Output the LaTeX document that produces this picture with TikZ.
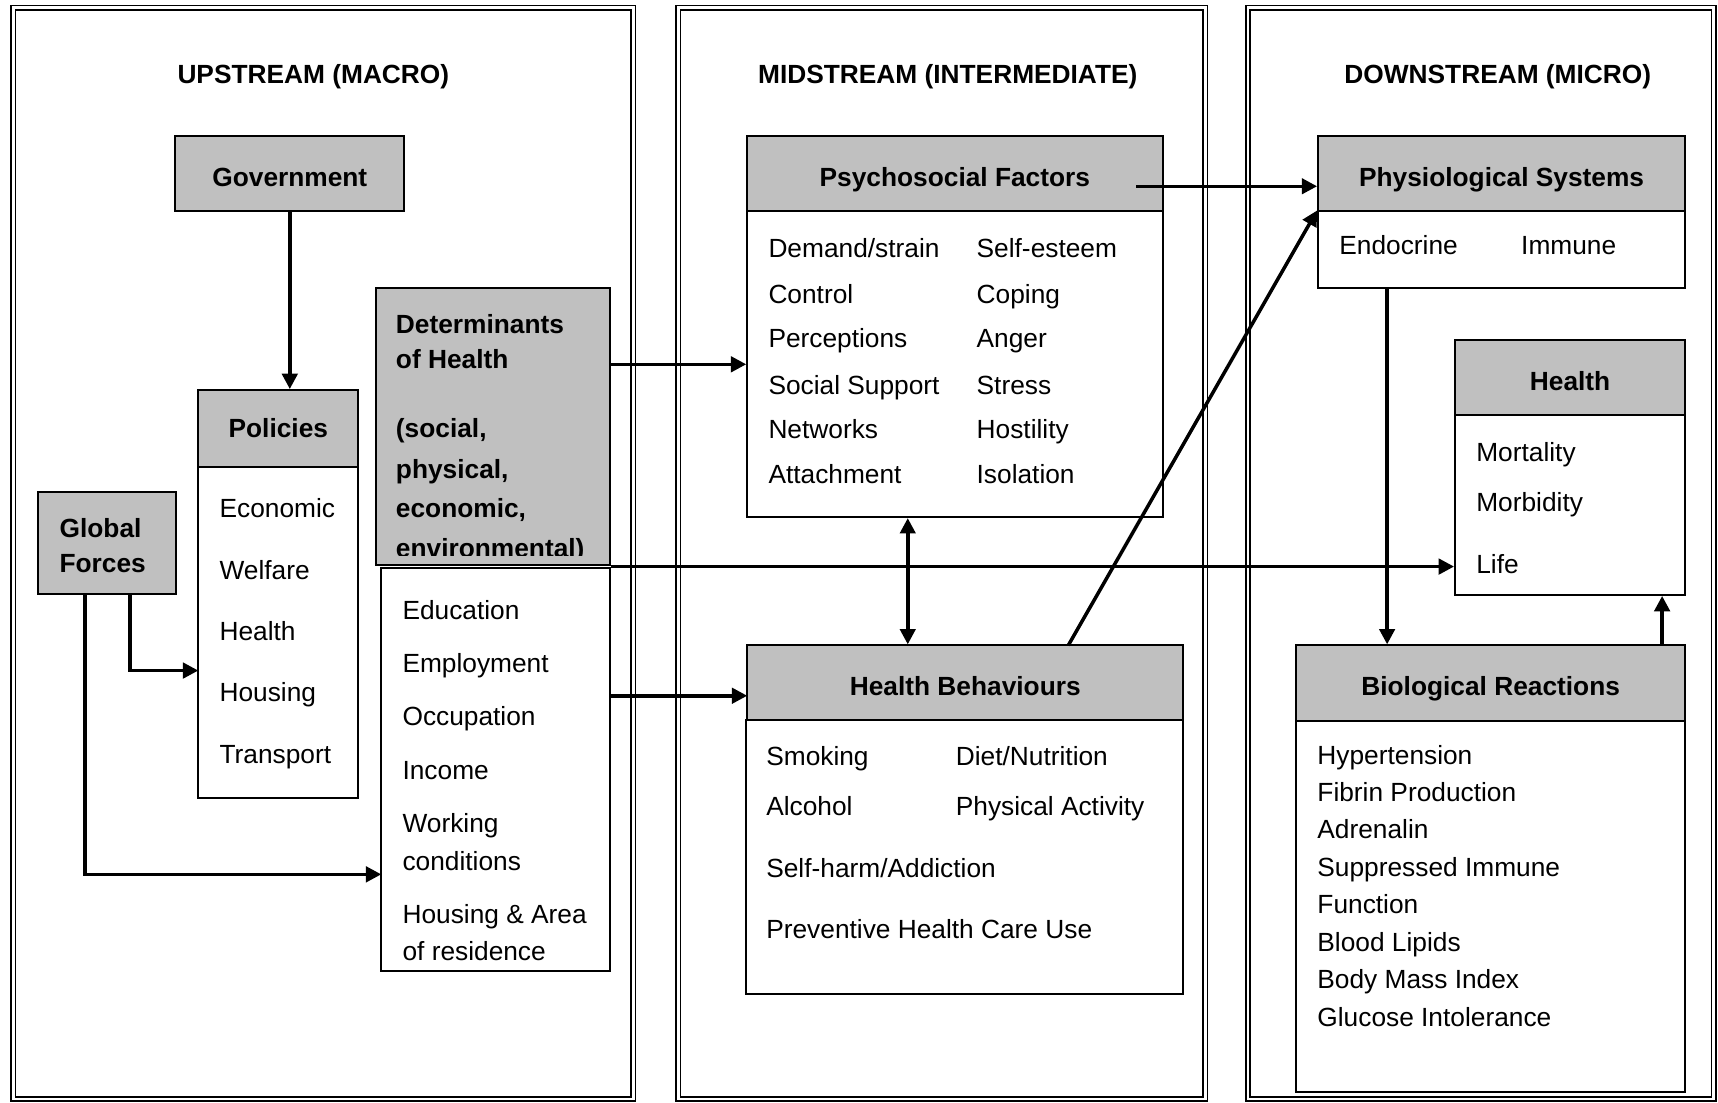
\documentclass[tikz,border=0pt]{standalone}
\usepackage{fontspec}
\setmainfont{Liberation Sans}
\usetikzlibrary{arrows.meta}
\definecolor{headgray}{HTML}{C0C0C0}
\tikzset{
  head/.style={draw, fill=headgray, line width=0.9pt, inner sep=0pt,
    font=\bfseries, text height=11.6pt, text depth=0pt},
  body/.style={draw, fill=white, line width=0.9pt, inner sep=0pt},
  item/.style={anchor=west, inner sep=0pt, text height=8.6pt, text depth=0pt},
  bitem/.style={item, font=\bfseries},
  title/.style={inner sep=0pt, font=\bfseries, text height=8.6pt, text depth=0pt},
  conn/.style={->, line width=1.6pt},
  panel/.style={double, double distance=1.3pt, line width=0.7pt},
}
\begin{document}
\begin{tikzpicture}[x=0.5pt, y=-0.5pt, >={Triangle[length=7pt,width=7pt]},
  node font=\fontsize{12}{14}\selectfont]
  \useasboundingbox (0,0) rectangle (1568,1006);

  % Panels
  \draw[panel] (12,7) rectangle (578,1003);
  \draw[panel] (619,7) rectangle (1100,1003);
  \draw[panel] (1139,7) rectangle (1564,1003);

  % Titles
  \node[title] (up) at (286,68) {UPSTREAM (MACRO)};
  \node[title] (mid) at (865,68) {MIDSTREAM (INTERMEDIATE)};
  \node[title] (down) at (1367,68) {DOWNSTREAM (MICRO)};

  % Upstream
  \node[head, minimum width=104.5pt, minimum height=34.5pt] (gov) at (264.5,158.5) {Government};
  \node[head, minimum width=73pt, minimum height=35pt, text height=8.6pt] (polh) at (254,391) {Policies};
  \node[body, minimum width=73pt, minimum height=151pt] (polb) at (254,577) {};
  \node[item] (p1) at (200,464) {Economic};
  \node[item] (p2) at (200,520) {Welfare};
  \node[item] (p3) at (200,576) {Health};
  \node[item] (p4) at (200,632) {Housing};
  \node[item] (p5) at (200,688) {Transport};

  \node[head, minimum width=63pt, minimum height=46.5pt] (gf) at (98,495.5) {};
  \node[bitem] (gf1) at (54,482) {Global};
  \node[bitem] (gf2) at (54,514) {Forces};

  \node[head, minimum width=107pt, minimum height=126.5pt] (det) at (450,389.5) {};
  \begin{scope}
    \clip (343,263) rectangle (557,507);
    \node[bitem] (d1) at (361,296) {Determinants};
    \node[bitem] (d2) at (361,328) {of Health};
    \node[bitem] (d3) at (361,391) {(social,};
    \node[bitem] (d4) at (361,428) {physical,};
    \node[bitem] (d5) at (361,464) {economic,};
    \node[bitem] (d6) at (361,500) {environmental)};
  \end{scope}
  \node[body, minimum width=104.5pt, minimum height=184pt] (detl) at (452.5,702) {};
  \node[item] (e1) at (367,557) {Education};
  \node[item] (e2) at (367,605) {Employment};
  \node[item] (e3) at (367,654) {Occupation};
  \node[item] (e4) at (367,703) {Income};
  \node[item] (e5) at (367,751) {Working};
  \node[item] (e6) at (367,786) {conditions};
  \node[item] (e7) at (367,834) {Housing \& Area};
  \node[item] (e8) at (367,868) {of residence};

  % Midstream
  \node[head, minimum width=189.5pt, minimum height=34.5pt] (psyh) at (871.5,158.5) {Psychosocial Factors};
  \node[body, minimum width=189.5pt, minimum height=139.5pt] (psyb) at (871.5,332.5) {};
  \node[item] (s1) at (701,226) {Demand/strain};
  \node[item] (s2) at (701,268) {Control};
  \node[item] (s3) at (701,309) {Perceptions};
  \node[item] (s4) at (701,351) {Social Support};
  \node[item] (s5) at (701,392) {Networks};
  \node[item] (s6) at (701,433) {Attachment};
  \node[item] (t1) at (891,226) {Self-esteem};
  \node[item] (t2) at (891,268) {Coping};
  \node[item] (t3) at (891,309) {Anger};
  \node[item] (t4) at (891,351) {Stress};
  \node[item] (t5) at (891,392) {Hostility};
  \node[item] (t6) at (891,433) {Isolation};

  \node[head, minimum width=199pt, minimum height=34pt] (hbh) at (881,623) {Health Behaviours};
  \node[body, minimum width=199.5pt, minimum height=125pt] (hbb) at (880.5,782) {};
  \node[item] (b1) at (699,690) {Smoking};
  \node[item] (b2) at (872,690) {Diet/Nutrition};
  \node[item] (b3) at (699,736) {Alcohol};
  \node[item] (b4) at (872,736) {Physical Activity};
  \node[item] (b5) at (699,792) {Self-harm/Addiction};
  \node[item] (b6) at (699,848) {Preventive Health Care Use};

  % Downstream
  \node[head, minimum width=167.5pt, minimum height=34.5pt] (physh) at (1370.5,158.5) {Physiological Systems};
  \node[body, minimum width=167.5pt, minimum height=35pt] (physb) at (1370.5,228) {};
  \node[item] (y1) at (1222,224) {Endocrine};
  \node[item] (y2) at (1388,224) {Immune};

  \node[head, minimum width=105pt, minimum height=34.5pt] (hlh) at (1433,344.5) {Health};
  \node[body, minimum width=105pt, minimum height=82pt] (hlb) at (1433,461) {};
  \node[item] (h1) at (1347,413) {Mortality};
  \node[item] (h2) at (1347,458) {Morbidity};
  \node[item] (h3) at (1347,515) {Life};

  \node[head, minimum width=177.5pt, minimum height=34.5pt] (bioh) at (1360.5,623.5) {Biological Reactions};
  \node[body, minimum width=177.5pt, minimum height=169.5pt] (biob) at (1360.5,827.5) {};
  \node[item] (r1) at (1202,689) {Hypertension};
  \node[item] (r2) at (1202,723) {Fibrin Production};
  \node[item] (r3) at (1202,757) {Adrenalin};
  \node[item] (r4) at (1202,791) {Suppressed Immune};
  \node[item] (r5) at (1202,825) {Function};
  \node[item] (r6) at (1202,860) {Blood Lipids};
  \node[item] (r7) at (1202,894) {Body Mass Index};
  \node[item] (r8) at (1202,928) {Glucose Intolerance};

  % Arrow ends
  \coordinate (gfpol) at (181,612);
  \coordinate (gfdet) at (348,798);
  \coordinate (hbin) at (682,635);
  \coordinate (psyout) at (1037,170);
  \coordinate (hbout) at (975,589);
  \coordinate (physout) at (1266,263);
  \coordinate (bioout) at (1517,589);

  % Arrows
  \draw[conn] (gov.south) -- (gov.south |- polh.north);
  \draw[conn] ([xshift=10.25pt]gf.south) |- (gfpol);
  \draw[conn] ([xshift=-10.25pt]gf.south) |- (gfdet);
  \draw[conn] (det.east |- psyb.west) -- (psyb.west);
  \draw[conn] (detl.north east) -- (detl.north east -| hlb.west);
  \draw[conn] (detl.east |- hbin) -- (hbin);
  \draw[conn, <->] ([xshift=-21.5pt]psyb.south) -- ([xshift=-21.5pt]psyb.south |- hbh.north);
  \draw[conn] (psyout) -- (psyout -| physh.west);
  \draw[conn] (hbout) -- (physb.north west);
  \draw[conn] (physout) -- (physout |- bioh.north);
  \draw[conn] (bioout) -- (bioout |- hlb.south);
\end{tikzpicture}
\end{document}
